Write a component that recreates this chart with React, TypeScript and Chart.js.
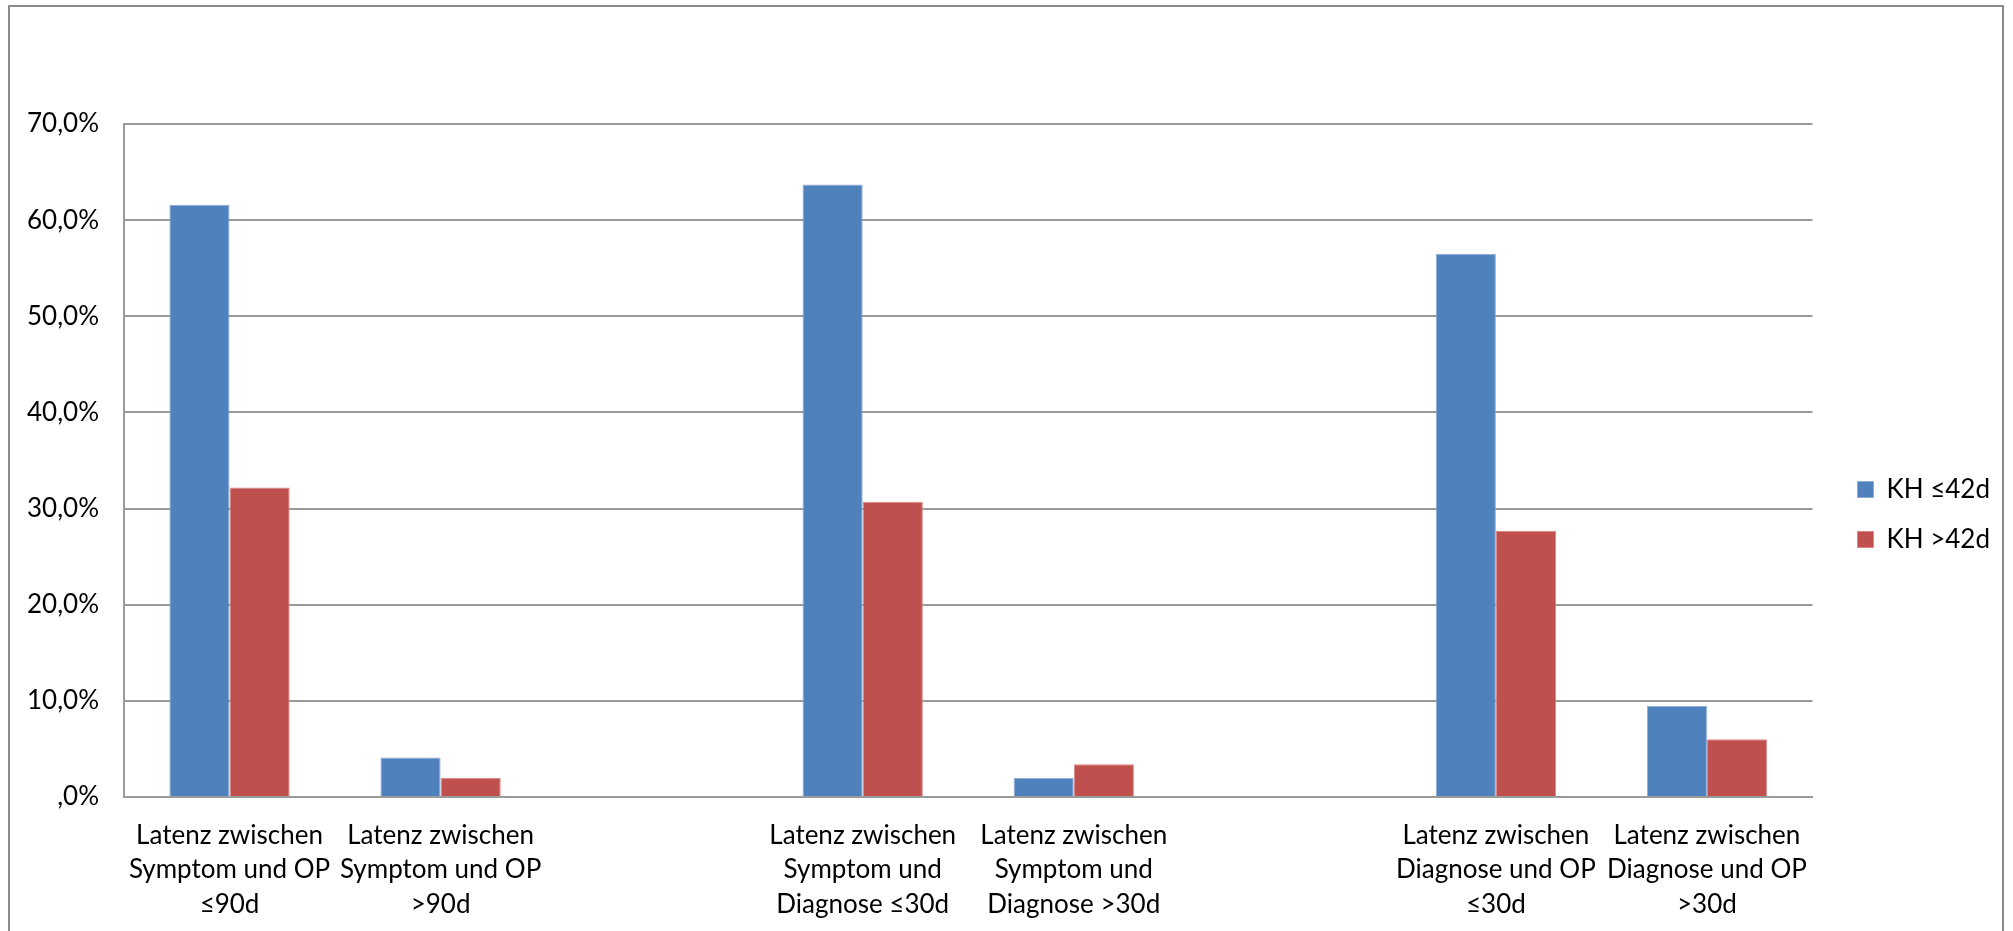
import React, { useEffect, useRef } from "react";
import { Chart, registerables } from "chart.js";

Chart.register(...registerables);

const categories: (string | string[])[] = [
  ["Latenz zwischen", "Symptom und OP", "≤90d"],
  ["Latenz zwischen", "Symptom und OP", ">90d"],
  "",
  ["Latenz zwischen", "Symptom und", "Diagnose ≤30d"],
  ["Latenz zwischen", "Symptom und", "Diagnose >30d"],
  "",
  ["Latenz zwischen", "Diagnose und OP", "≤30d"],
  ["Latenz zwischen", "Diagnose und OP", ">30d"],
];

const seriesNames = ["KH ≤42d", "KH >42d"];
const khLE42 = [61.6, 4.1, null, 63.7, 2.0, null, 56.5, 9.5];
const khGT42 = [32.2, 2.0, null, 30.7, 3.4, null, 27.7, 6.0];
const yTickLabels = [",0%", "10,0%", "20,0%", "30,0%", "40,0%", "50,0%", "60,0%", "70,0%"];

const FONT = "Lato";
const GRID = "#9a9a9a";

const legendShift = {
  id: "legendShift",
  afterLayout(chart: any) {
    const l = chart.legend;
    if (l) {
      l.top -= 13;
      l.bottom -= 13;
    }
  },
};

export default function App() {
  const ref = useRef<HTMLCanvasElement | null>(null);

  useEffect(() => {
    if (!ref.current) return;
    const chart = new Chart(ref.current, {
      type: "bar",
      data: {
        labels: categories,
        datasets: [
          {
            label: seriesNames[0],
            data: khLE42,
            backgroundColor: "#4F81BD",
            borderColor: "#8EAAD6",
            borderWidth: 1,
            categoryPercentage: 0.57,
            barPercentage: 1,
          },
          {
            label: seriesNames[1],
            data: khGT42,
            backgroundColor: "#C0504D",
            borderColor: "#D98886",
            borderWidth: 1,
            categoryPercentage: 0.57,
            barPercentage: 1,
          },
        ],
      },
      plugins: [legendShift],
      options: {
        responsive: false,
        animation: false,
        devicePixelRatio: 1,
        layout: { padding: { top: 124, left: 0, right: 13, bottom: 0 } },
        plugins: {
          tooltip: { enabled: false },
          legend: {
            position: "right",
            align: "center",
            labels: {
              boxWidth: 16,
              boxHeight: 16,
              padding: 24,
              color: "#000",
              font: { family: FONT, size: 26 },
            },
          },
        },
        scales: {
          x: {
            grid: { display: false },
            border: { display: true, color: GRID, width: 2 },
            ticks: {
              color: "#000",
              font: { family: FONT, size: 26, lineHeight: 1.31 },
              padding: 14,
              autoSkip: false,
              maxRotation: 0,
              minRotation: 0,
            },
            afterFit: (s: any) => {
              s.height = 134;
            },
          },
          y: {
            min: 0,
            max: 70,
            grid: { color: GRID, lineWidth: 2, drawTicks: false },
            border: { display: true, color: GRID, width: 2 },
            ticks: {
              stepSize: 10,
              color: "#000",
              padding: 25,
              font: { family: FONT, size: 26 },
              callback: (v: any) => yTickLabels[Math.round(Number(v) / 10)],
            },
            afterFit: (s: any) => {
              s.width = 124;
            },
          },
          yRight: {
            type: "linear",
            position: "right",
            display: true,
            grid: { display: false, drawTicks: false },
            border: { display: false },
            ticks: { display: false },
            afterFit: (s: any) => {
              s.width = 21;
            },
          },
        },
      },
    } as any);
    return () => chart.destroy();
  }, []);

  return (
    <div style={{ position: "absolute", left: 0, top: 0, width: 2013, height: 931, overflow: "hidden", background: "#fff" }}>
      <div
        style={{
          position: "absolute",
          left: 8,
          top: 5,
          width: 1996,
          height: 1000,
          border: "2px solid #8a8a8a",
          boxSizing: "border-box",
        }}
      />
      <canvas
        ref={ref}
        width={2013}
        height={931}
        style={{ position: "absolute", left: 0, top: 0, width: 2013, height: 931, display: "block" }}
      />
    </div>
  );
}
